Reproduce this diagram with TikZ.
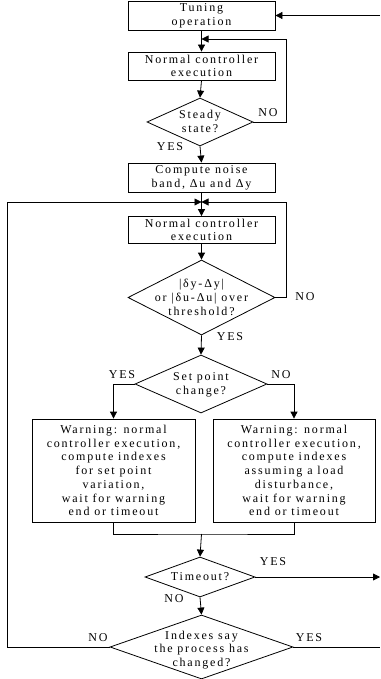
\documentclass[tikz,border=0pt]{standalone}
\usepackage{fontspec}
\setmainfont{Liberation Serif}[LetterSpace=15]
\usetikzlibrary{shapes.geometric,arrows.meta}
\begin{document}
\begin{tikzpicture}[x=1pt,y=-1pt,
  every node/.style={font=\fontsize{12}{13.7}\selectfont, inner sep=0pt},
  box/.style={draw, line width=0.8pt, rectangle},
  dia/.style={draw, line width=0.8pt, diamond},
  txt/.style={align=center},
  lbl/.style={font=\fontsize{12}{13.7}\selectfont},
  ln/.style={line width=0.8pt},
  arr/.style={line width=0.8pt, -{Triangle[length=7pt,width=7pt]}}]
\useasboundingbox[fill=white] (0,0) rectangle (380,679);

% nodes
\node[box, minimum width=147pt, minimum height=29pt] (tune) at (201.5,15.5) {};
\node[txt] at (tune) {Tuning\\operation};
\node[box, minimum width=147pt, minimum height=28pt] (nce1) at (201.5,66) {};
\node[txt] at (nce1) {Normal controller\\execution};
\node[dia, minimum width=106pt, minimum height=48pt] (ss) at (200,122) {};
\node[txt] at (200,121.5) {Steady\\state?};
\node[box, minimum width=147pt, minimum height=29pt] (cnb) at (201.5,177.5) {};
\node[txt] at (cnb) {Compute noise\\band, Δu and Δy};
\node[box, minimum width=147pt, minimum height=27pt] (nce2) at (201.5,230) {};
\node[txt] at (nce2) {Normal controller\\execution};
\node[dia, minimum width=147pt, minimum height=75pt] (thr) at (201.5,297.5) {};
\node[txt] at (thr) {|δy-Δy|\\or |δu-Δu| over\\threshold?};
\node[dia, minimum width=132pt, minimum height=58pt] (sp) at (201,384) {};
\node[txt] at (201,385) {Set point\\change?};
\node[box, minimum width=163pt, minimum height=103pt] (wl) at (113.5,470.5) {};
\node[txt] at (wl) {Warning: normal\\controller execution,\\compute indexes\\for set point\\variation,\\wait for warning\\end or timeout};
\node[box, minimum width=162pt, minimum height=103pt] (wr) at (294,470.5) {};
\node[txt] at (wr) {Warning: normal\\controller execution,\\compute indexes\\assuming a load\\disturbance,\\wait for warning\\end or timeout};
\node[dia, minimum width=110pt, minimum height=40pt] (tmo) at (200,577) {};
\node[txt] at (tmo) {Timeout?};
\node[dia, minimum width=183pt, minimum height=64pt] (idx) at (201.5,647) {};
\node[txt] at (201.5,650) {Indexes say\\the process has\\changed?};

% labels
\node[lbl] (l1) at (268,113) {NO};
\node[lbl] (l2) at (170,147) {YES};
\node[lbl] (l3) at (305,297) {NO};
\node[lbl] (l4) at (230,337) {YES};
\node[lbl] (l5) at (122,375) {YES};
\node[lbl] (l6) at (281,375) {NO};
\node[lbl] (l7) at (273,562) {YES};
\node[lbl] (l8) at (174,599) {NO};
\node[lbl] (l9) at (309,638) {YES};
\node[lbl] (l10) at (98,638) {NO};

% coordinates
\coordinate (inT) at (380,15.5);
\coordinate (j1) at (201.5,39);
\coordinate (j2) at (201.5,202);
\coordinate (m) at (201.5,534);
\coordinate (outT) at (380,577);
\coordinate (outI) at (380,647);

% connectors
\draw[arr] (inT) -- (tune.east);
\draw[arr] (tune.south) -- (nce1.north);
\draw[arr] (nce1.south) -- (ss.north);
\draw[arr] (ss.east) -- (286,122) -- (286,39) -- (j1);
\draw[arr] (ss.south) -- (cnb.north);
\draw[arr] (cnb.south) -- (nce2.north);
\draw[arr] (nce2.south) -- (thr.north);
\draw[arr] (thr.east) -- (286,297.5) -- (286,202) -- (j2);
\draw[arr] (idx.west) -- (7,647) -- (7,202) -- (j2);
\draw[arr] (thr.south) -- (sp.north);
\draw[arr] (sp.west) -| (wl.north);
\draw[arr] (sp.east) -| (wr.north);
\draw[ln] (wl.south) |- (m) -| (wr.south);
\draw[arr] (m) -- (tmo.north);
\draw[arr] (tmo.east) -- (outT);
\draw[arr] (tmo.south) -- (idx.north);
\draw[ln] (idx.east) -- (outI);
\end{tikzpicture}
\end{document}
